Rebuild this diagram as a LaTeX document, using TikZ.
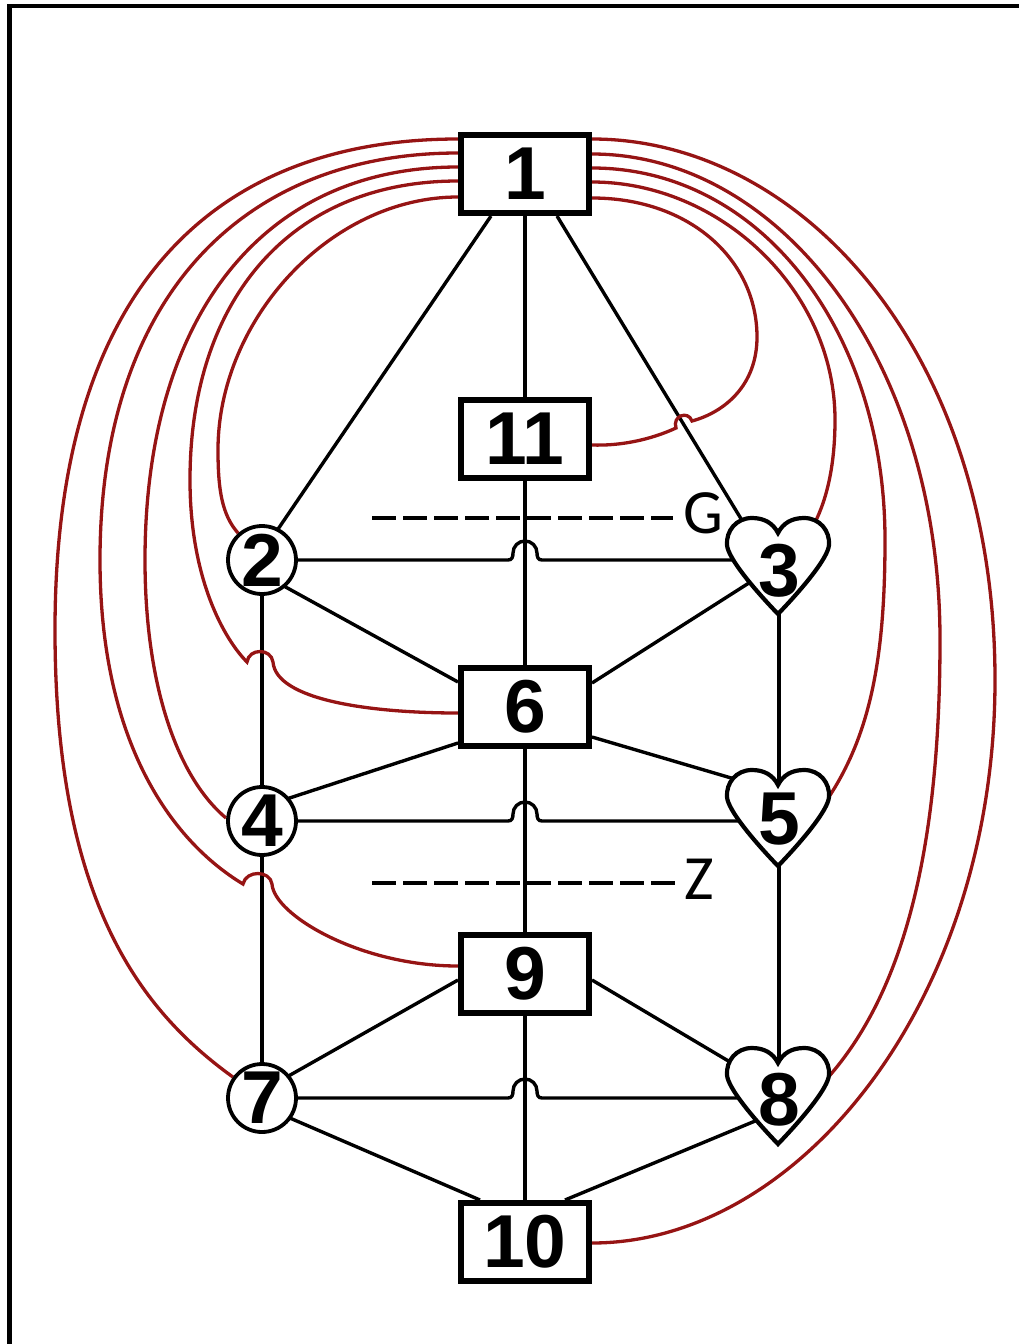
\documentclass[tikz,border=0pt]{standalone}
\usepackage{fontspec}
\setmainfont{Liberation Sans}
\newfontfamily\labfont{Carlito}
\usetikzlibrary{calc}
\pgfdeclarelayer{edges}
\pgfsetlayers{edges,main}
\definecolor{curvered}{RGB}{150,20,20}
\begin{document}
\begin{tikzpicture}[x=1pt,y=1pt,
  numfont/.style={font=\fontsize{75}{75}\selectfont\bfseries},
  boxnode/.style={draw, line width=6pt, fill=white, minimum width=128pt, minimum height=78pt, inner sep=0pt, numfont},
  circnode/.style={circle, draw, line width=3.8pt, fill=white, minimum size=68pt, inner sep=0pt, numfont},
  numnode/.style={inner sep=0pt, numfont},
  edge/.style={line width=3.4pt, black},
  redline/.style={line width=3.3pt, curvered},
  heartline/.style={draw, line width=4.2pt, fill=white, line join=miter},
  dashline/.style={line width=4pt, dash pattern=on 23.5pt off 7.5pt},
  lbl/.style={font=\labfont\fontsize{63}{63}\selectfont, inner sep=0pt},
  pics/heartshape/.style={code={
    \path[heartline] (0,0) .. controls (5,10) and (14,15) .. (26,15)
      .. controls (42,15) and (52,2) .. (51,-12)
      .. controls (50,-25) and (25,-55) .. (0,-81)
      .. controls (-25,-55) and (-50,-25) .. (-51,-12)
      .. controls (-52,2) and (-42,15) .. (-26,15)
      .. controls (-14,15) and (-5,10) .. (0,0) -- cycle;
  }}
]
\useasboundingbox (0,0) rectangle (1019,-1344);
\draw[line width=4.5pt] (9.5,-1344) -- (9.5,-6) -- (1019,-6);

% nodes
\node[boxnode] (n1) at (525,-174) {1};
\node[boxnode] (n11) at (525,-439) {11};
\node[boxnode] (n6) at (525,-707) {6};
\node[boxnode] (n9) at (525,-974) {9};
\node[boxnode] (n10) at (525,-1242) {10};
\node[circnode] (n2) at (262,-560) {2};
\node[circnode] (n4) at (262,-821) {4};
\node[circnode] (n7) at (262,-1098) {7};
\pic at (778,-533) {heartshape};
\node[numnode] (n3) at (779,-571) {3};
\pic at (778,-785) {heartshape};
\node[numnode] (n5) at (779,-819) {5};
\pic at (778,-1063) {heartshape};
\node[numnode] (n8) at (779,-1100) {8};

\node[lbl] (labG) at (703,-513) {G};
\node[lbl] (labZ) at (699,-879) {Z};

\begin{pgfonlayer}{edges}
% black connectors
\draw[edge] (n1) -- (n11);
\draw[edge] (n11) -- (n6);
\draw[edge] (n6) -- (n9);
\draw[edge] (n9) -- (n10);
\draw[edge] ($(n1.south)+(-34,0)$) -- ($(n2)+(-5,0)$);
\draw[edge] ($(n1.south)+(32,0)$) -- ($(n3)+(-19,21)$);
\draw[edge] (n2) -- (508,-560) .. controls (512,-560) and (513,-557) .. (513,-553)
   arc[start angle=180, end angle=0, radius=12pt]
   .. controls (537,-557) and (538,-560) .. (542,-560) -- (n3 |- n2);
\draw[edge] (n4) -- (508,-821) .. controls (512,-821) and (513,-818) .. (513,-814)
   arc[start angle=180, end angle=0, radius=12pt]
   .. controls (537,-818) and (538,-821) .. (542,-821) -- (n5 |- n4);
\draw[edge] (n7) -- (508,-1098) .. controls (512,-1098) and (513,-1095) .. (513,-1091)
   arc[start angle=180, end angle=0, radius=12pt]
   .. controls (537,-1095) and (538,-1098) .. (542,-1098) -- (n8 |- n7);
\draw[edge] (n2) -- (n4);
\draw[edge] (n4) -- (n7);
\draw[edge] (n3) -- (n5);
\draw[edge] (n5) -- (n8);
\draw[edge] ($(n6.west)+(0,25)$) -- ($(n2)+(0,-14)$);
\draw[edge] ($(n6.east)+(0,24)$) -- ($(n3)+(-16,-3)$);
\draw[edge] ($(n6.west)+(0,-36)$) -- ($(n4)+(0,14)$);
\draw[edge] ($(n6.east)+(0,-30)$) -- ($(n5)+(-24,34)$);
\draw[edge] ($(n9.west)+(0,-6)$) -- ($(n7)+(0,7)$);
\draw[edge] ($(n9.east)+(0,-6)$) -- ($(n8)+(-27,25)$);
\draw[edge] ($(n7)+(0,-8)$) -- ($(n10.north)+(-45,0)$);
\draw[edge] ($(n8)+(-7,-14)$) -- ($(n10.north)+(40,0)$);

% dashed levels
\coordinate (gstart) at (372,-518);
\coordinate (zstart) at (372,-883);
\draw[dashline] (gstart) -- (673,-518);
\draw[dashline] (zstart) -- (675,-883);

% red curves, left
\draw[redline] ($(n1.west)+(0,35)$) .. controls (230,-139) and (55,-270) .. (55,-630)
   .. controls (55,-900) and (140,-1010) .. (n7);
\draw[redline] ($(n1.west)+(0,21)$) .. controls (240,-153) and (100,-300) .. (100,-560)
   .. controls (100,-740) and (170,-840) .. (243,-884)
   .. controls (246,-870) and (270,-870) .. (272,-884)
   .. controls (274,-915) and (360,-966) .. ($(n9.west)+(0,8)$);
\draw[redline] ($(n1.west)+(0,7)$) .. controls (260,-167) and (145,-320) .. (145,-560)
   .. controls (145,-680) and (175,-775) .. ($(n4)+(-36,3)$);
\draw[redline] ($(n1.west)+(0,-7)$) .. controls (290,-181) and (190,-300) .. (190,-480)
   .. controls (190,-580) and (225,-640) .. (247,-662)
   .. controls (249,-648) and (271,-648) .. (273,-662)
   .. controls (276,-700) and (370,-713) .. ($(n6.west)+(0,-6)$);
\draw[redline] ($(n1.west)+(0,-23)$) .. controls (330,-197) and (218,-320) .. (218,-450)
   .. controls (218,-490) and (222,-515) .. (n2);

% red curves, right
\draw[redline] ($(n1.east)+(0,35)$) .. controls (800,-139) and (995,-350) .. (995,-680)
   .. controls (995,-1000) and (800,-1243) .. ($(n10.east)+(0,-1)$);
\draw[redline] ($(n1.east)+(0,20)$) .. controls (780,-154) and (940,-360) .. (940,-640)
   .. controls (940,-860) and (900,-1000) .. ($(n8)+(44,17)$);
\draw[redline] ($(n1.east)+(0,6)$) .. controls (760,-168) and (885,-330) .. (885,-540)
   .. controls (885,-660) and (870,-740) .. ($(n5)+(43,12)$);
\draw[redline] ($(n1.east)+(0,-8)$) .. controls (720,-182) and (835,-290) .. (835,-420)
   .. controls (835,-470) and (825,-505) .. ($(n3)+(33,43)$);
\draw[redline] ($(n1.east)+(0,-24)$) .. controls (690,-198) and (757,-260) .. (757,-337)
   .. controls (757,-385) and (725,-412) .. (692,-421)
   .. controls (688,-410) and (672,-416) .. (676,-428)
   .. controls (650,-440) and (620,-446) .. ($(n11.east)+(0,-6)$);
\end{pgfonlayer}
\end{tikzpicture}
\end{document}
